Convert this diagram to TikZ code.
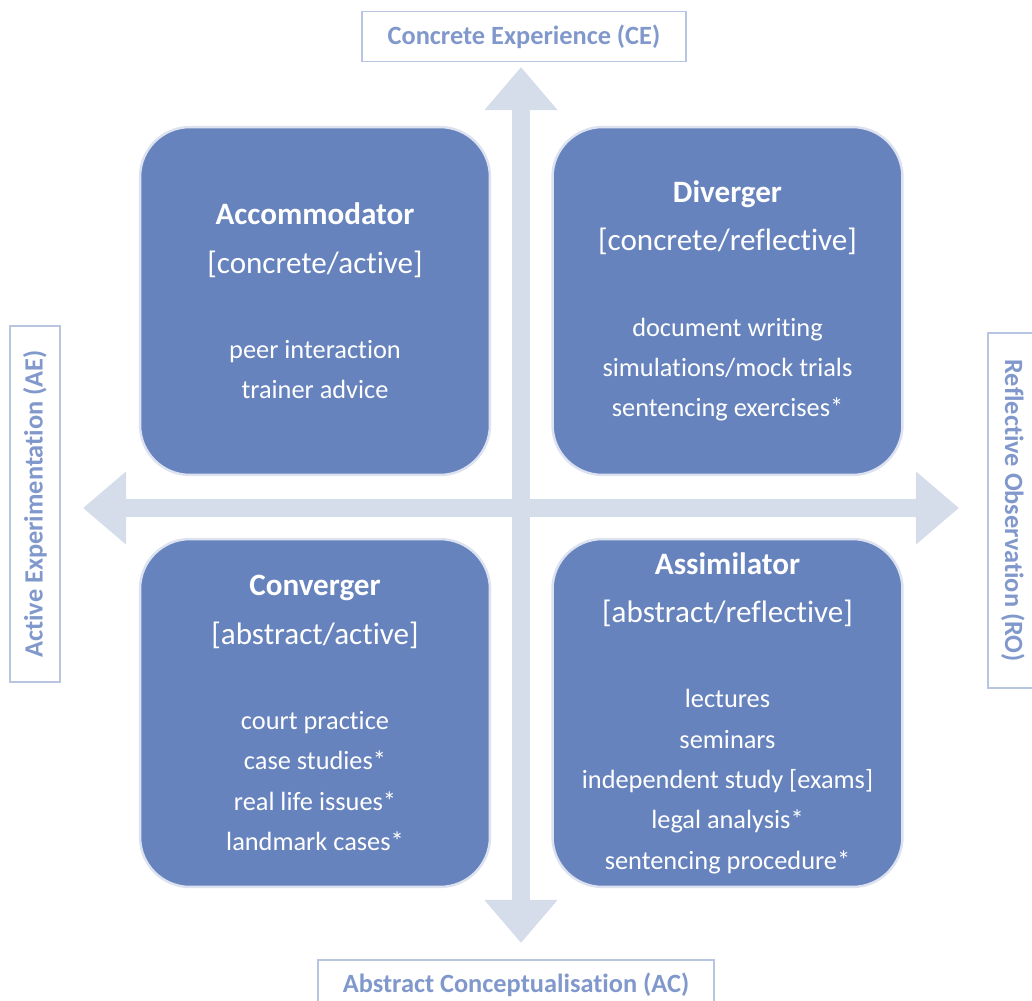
\documentclass[tikz,border=0pt]{standalone}
\usepackage{fontspec}
\setmainfont[RawFeature={-liga;-clig;-dlig;-calt}]{Carlito}
\usetikzlibrary{arrows.meta}
\definecolor{quadfill}{HTML}{6783BD}
\definecolor{quadline}{HTML}{DCE2EF}
\definecolor{axisfill}{HTML}{D5DDEB}
\definecolor{labelline}{HTML}{B7C5E2}
\definecolor{labeltext}{HTML}{8098CB}
\newcommand{\quadhead}[1]{{\fontsize{17.7}{23}\selectfont\bfseries #1}}
\newcommand{\quadsub}[1]{{\fontsize{17.7}{23}\selectfont #1}}

\begin{document}
\begin{tikzpicture}[x=0.02cm, y=-0.02cm,
  quad/.style={draw=quadline, line width=1.4pt, fill=quadfill,
              rounded corners=1cm, minimum width=7cm, minimum height=6.96cm,
              text=white, align=center, font=\fontsize{15}{23}\selectfont},
  axlabel/.style={draw=labelline, line width=1.1pt, fill=white,
              text=labeltext, minimum height=1cm, inner sep=0pt,
              font=\fontsize{15}{18}\selectfont\bfseries},
  axis/.style={{Triangle[length=24.5pt,width=40pt]}-{Triangle[length=24.5pt,width=40pt]},
              line width=10.2pt, draw=axisfill}
]
\useasboundingbox (0,0) rectangle (1032,1001);

% axes
\coordinate (ce) at (521,67);
\coordinate (ac) at (521,943);
\coordinate (ae) at (83,508);
\coordinate (ro) at (959,508);
\draw[axis] (ae) -- (ro);
\draw[axis] (ac) -- (ce);

% learning styles
\node[quad] (acc) at (315,301)
  {\quadhead{Accommodator}\\[4.6pt] \quadsub{[concrete/active]}\\[25.4pt]
   peer interaction\\ trainer advice};
\node[quad] (div) at (727.5,301)
  {\quadhead{Diverger}\\[4.6pt] \quadsub{[concrete/reflective]}\\[25.4pt]
   document writing\\ simulations/mock trials\\ sentencing exercises*};
\node[quad] (con) at (315,713)
  {\quadhead{Converger}\\[4.6pt] \quadsub{[abstract/active]}\\[25.4pt]
   court practice\\ case studies*\\ real life issues*\\ landmark cases*};
\node[quad] (ass) at (727.5,713)
  {\quadhead{Assimilator}\\[4.6pt] \quadsub{[abstract/reflective]}\\[25.4pt]
   lectures\\ seminars\\ independent study [exams]\\ legal analysis*\\
   sentencing procedure*};

% axis labels
\node[axlabel, minimum width=6.48cm] (lce) at (524,36.5) {Concrete Experience (CE)};
\node[axlabel, minimum width=7.92cm] (lac) at (516,985) {Abstract Conceptualisation (AC)};
\node[axlabel, minimum width=7.12cm, rotate=90] (lae) at (35,504) {Active Experimentation (AE)};
\node[axlabel, minimum width=7.1cm, rotate=-90] (lro) at (1013,510.5) {Reflective Observation (RO)};
\end{tikzpicture}
\end{document}
